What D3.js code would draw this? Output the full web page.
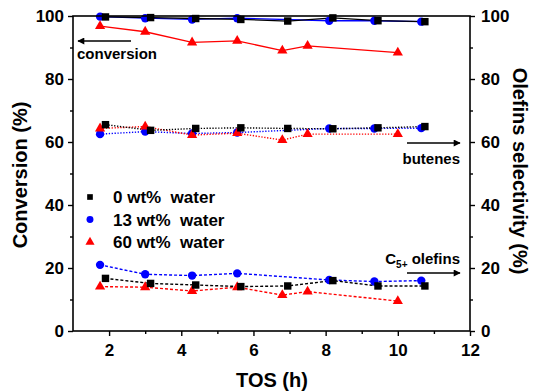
<!DOCTYPE html>
<html><head><meta charset="utf-8">
<script src="https://cdn.jsdelivr.net/npm/d3@7"></script>
<style>
body{margin:0;background:#fff;}
text{font-family:"Liberation Sans",Arial,sans-serif;font-weight:bold;}
</style></head>
<body><svg id="c" width="538" height="391"></svg>
<script>
// TOS (h) for each series
const tos0 = [1.9, 3.15, 4.4, 5.65, 6.95, 8.2, 9.45, 10.75];
const tos13 = [1.75, 3.0, 4.3, 5.55, 8.1, 9.35, 10.65];
const tos60 = [1.75, 3.0, 4.3, 5.55, 6.8, 7.5, 10.0];

// Conversion (%)
const conv0 = [99.7, 99.5, 99.2, 98.9, 98.4, 99.4, 98.5, 98.2];
const conv13 = [99.8, 99.3, 98.9, 99.3, 98.5, 98.5, 98.2];
const conv60 = [96.8, 95.0, 91.6, 92.1, 89.0, 90.5, 88.4];

// Butenes selectivity (%)
const but0 = [65.5, 63.7, 64.3, 64.5, 64.3, 64.2, 64.5, 64.9];
const but13 = [62.5, 63.3, 62.7, 63.0, 64.3, 64.3, 64.4];
const but60 = [64.3, 64.9, 62.2, 62.8, 60.6, 62.5, 62.5];

// C5+ olefins selectivity (%)
const c50 = [16.7, 15.1, 14.6, 14.1, 14.3, 16.0, 14.3, 14.3];
const c513 = [21.0, 18.0, 17.6, 18.3, 16.2, 15.7, 16.0];
const c560 = [14.1, 13.9, 12.7, 13.9, 11.4, 12.5, 9.5];

const legendLabels = ["0 wt%\u00a0\u00a0water", "13 wt%\u00a0\u00a0water", "60 wt%\u00a0\u00a0water"];
const xTicks = [2, 4, 6, 8, 10, 12];
const xMinor = [3, 5, 7, 9, 11];
const yTicks = [0, 20, 40, 60, 80, 100];
const yMinor = [10, 30, 50, 70, 90];

const svg = d3.select("#c");
const L = 73, R = 470, T = 16, B = 331;
const x = d3.scaleLinear().domain([1, 12]).range([L, R]);
const y = d3.scaleLinear().domain([0, 100]).range([B, T]);

const series = [
  {tos: tos13, c: "#0000ff", shape: "circle", sets: [conv13, but13, c513]},
  {tos: tos60, c: "#ff0000", shape: "triangle", sets: [conv60, but60, c560]},
  {tos: tos0, c: "#000000", shape: "square", sets: [conv0, but0, c50]}
];
const dashes = [null, "1.3,1.6", "3,2"];

function sym(shape, size) {
  const t = shape === "circle" ? d3.symbolCircle : shape === "triangle" ? d3.symbolTriangle : d3.symbolSquare;
  return d3.symbol().type(t).size(size)();
}
const sizes = {circle: 55, triangle: 45, square: 55};

const line = d3.line();
series.forEach(s => {
  s.sets.forEach((vals, k) => {
    const pts = vals.map((v, i) => [x(s.tos[i]), y(v)]);
    svg.append("path").attr("d", line(pts)).attr("fill", "none")
      .attr("stroke", s.c).attr("stroke-width", k === 0 ? 1.3 : 1.4)
      .attr("stroke-dasharray", dashes[k]);
  });
});
series.forEach(s => {
  s.sets.forEach(vals => {
    svg.selectAll(null).data(vals).enter().append("path")
      .attr("d", sym(s.shape, sizes[s.shape]))
      .attr("transform", (v, i) => `translate(${x(s.tos[i])},${y(v)})`)
      .attr("fill", s.c);
  });
});

// frame
svg.append("rect").attr("x", L).attr("y", T).attr("width", R - L).attr("height", B - T)
  .attr("fill", "none").attr("stroke", "#000").attr("stroke-width", 1.6);

// axes
const axB = svg.append("g").attr("transform", `translate(0,${B})`)
  .call(d3.axisBottom(x).tickValues(xTicks).tickSize(5).tickPadding(8).tickFormat(d3.format("d")));
const axBm = svg.append("g").attr("transform", `translate(0,${B})`)
  .call(d3.axisBottom(x).tickValues(xMinor).tickSize(3).tickFormat(""));
const axL = svg.append("g").attr("transform", `translate(${L},0)`)
  .call(d3.axisLeft(y).tickValues(yTicks).tickSize(5).tickPadding(4));
const axLm = svg.append("g").attr("transform", `translate(${L},0)`)
  .call(d3.axisLeft(y).tickValues(yMinor).tickSize(3).tickFormat(""));
const axR = svg.append("g").attr("transform", `translate(${R},0)`)
  .call(d3.axisRight(y).tickValues(yTicks).tickSize(5).tickPadding(6));
const axRm = svg.append("g").attr("transform", `translate(${R},0)`)
  .call(d3.axisRight(y).tickValues(yMinor).tickSize(3).tickFormat(""));
[axB, axBm, axL, axLm, axR, axRm].forEach(g => {
  g.select(".domain").remove();
  g.selectAll("line").attr("stroke", "#000").attr("stroke-width", 1.4);
  g.selectAll("text").attr("font-size", 17).attr("fill", "#000")
    .style("font-family", "'Liberation Sans',Arial,sans-serif").style("font-weight", "bold");
});

// axis titles
svg.append("text").attr("x", 272).attr("y", 387).attr("text-anchor", "middle")
  .attr("font-size", 20).text("TOS (h)");
svg.append("text").attr("transform", `translate(27,175) rotate(-90)`)
  .attr("text-anchor", "middle").attr("font-size", 20).text("Conversion (%)");
svg.append("text").attr("transform", `translate(513,171) rotate(90)`)
  .attr("text-anchor", "middle").attr("font-size", 20).text("Olefins selectivity (%)");

// arrows
svg.append("defs").append("marker").attr("id", "ah").attr("viewBox", "0 0 10 10")
  .attr("refX", 9).attr("refY", 5).attr("markerWidth", 9).attr("markerHeight", 7)
  .attr("markerUnits", "userSpaceOnUse").attr("orient", "auto")
  .append("path").attr("d", "M0,0 L10,5 L0,10 Z").attr("fill", "#000");
function arrow(x1, y1, x2, y2) {
  svg.append("line").attr("x1", x1).attr("y1", y1).attr("x2", x2).attr("y2", y2)
    .attr("stroke", "#000").attr("stroke-width", 1.4).attr("marker-end", "url(#ah)");
}
arrow(131, 41, 78, 41);
svg.append("text").attr("x", 77).attr("y", 59).attr("font-size", 15).text("conversion");
arrow(407, 143, 460, 143);
svg.append("text").attr("x", 460).attr("y", 164).attr("text-anchor", "end").attr("font-size", 15).text("butenes");
arrow(407, 273, 460, 273);
const ct = svg.append("text").attr("x", 460).attr("y", 264).attr("text-anchor", "end").attr("font-size", 15);
ct.append("tspan").text("C");
ct.append("tspan").attr("font-size", 10).attr("dy", 4).text("5+");
ct.append("tspan").attr("dy", -4).text(" olefins");

// legend
const legShapes = [["square", "#000000", 32], ["circle", "#0000ff", 38], ["triangle", "#ff0000", 36]];
legShapes.forEach((s, i) => {
  const yy = 197 + i * 22.5;
  svg.append("path").attr("d", sym(s[0], s[2])).attr("transform", `translate(90,${yy})`).attr("fill", s[1]);
  svg.append("text").attr("x", 113).attr("y", yy + 6).attr("font-size", 17).text(legendLabels[i]);
});
</script></body></html>
